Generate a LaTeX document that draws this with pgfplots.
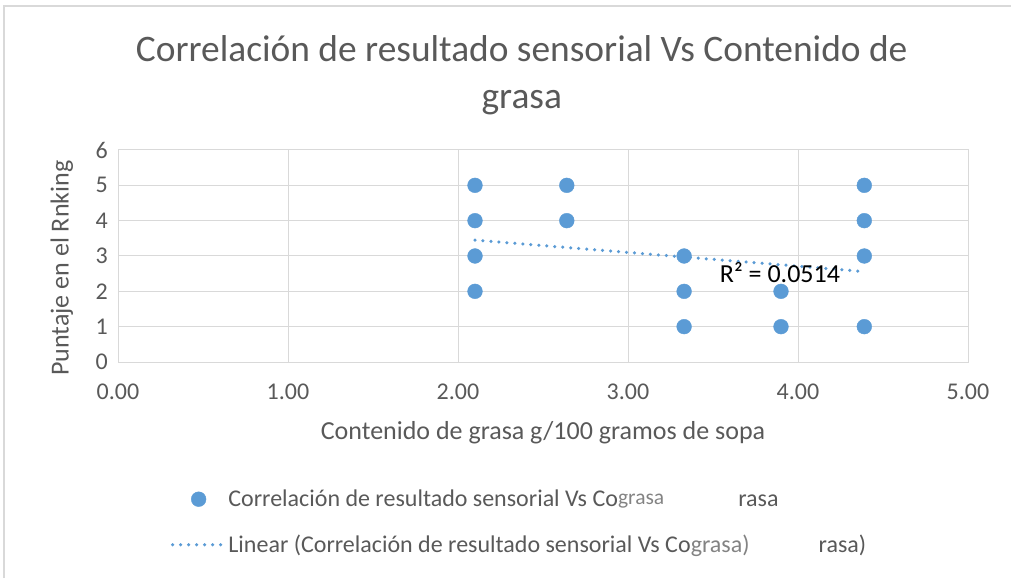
\documentclass[border=0pt]{standalone}
\usepackage{pgfplots}
\pgfplotsset{compat=1.18}
\usepackage{fontspec}
\setmainfont{Carlito}
\definecolor{ptblue}{HTML}{5B9BD5}
\definecolor{txt}{HTML}{595959}
\definecolor{gridc}{HTML}{D9D9D9}
\pgfplotsset{
  markleg/.style={legend image code/.code={\draw[##1] plot coordinates {(26pt,0pt)};}},
  lineleg/.style={legend image code/.code={\draw[##1] (0pt,0pt) -- (52pt,0pt);}},
}
\begin{document}
\begin{tikzpicture}[x=1pt,y=1pt]
\path[use as bounding box] (0,0) rectangle (1011,578);
\draw[gridc, line width=1.2pt] (4,0) -- (4,572) -- (1011,572);
\begin{axis}[
  at={(118pt,216pt)}, anchor=south west,
  scale only axis, width=850pt, height=212pt,
  xmin=0, xmax=5, ymin=0, ymax=6,
  xtick={0,1,2,3,4,5}, ytick={0,1,2,3,4,5,6},
  xticklabels={0.00,1.00,2.00,3.00,4.00,5.00},
  grid=major, major grid style={gridc, line width=1pt},
  axis line style={gridc, line width=1pt},
  tick style={draw=none},
  /pgf/number format/assume math mode=true,
  ticklabel style={font=\fontsize{24}{26}\selectfont, text=txt, inner sep=0pt},
  xticklabel style={yshift=-22pt},
  yticklabel style={xshift=-10pt},
  title={Correlación de resultado sensorial Vs Contenido de\\grasa},
  title style={at={(axis description cs:0.475,1.325)}, anchor=center, align=center,
    font=\fontsize{37.4}{47}\selectfont, text=txt},
  xlabel={Contenido de grasa g/100 gramos de sopa},
  xlabel style={at={(axis description cs:0.5,-0.335)}, anchor=center,
    font=\fontsize{26}{30}\selectfont, text=txt},
  ylabel={Puntaje en el Rnking},
  ylabel style={at={(axis description cs:-0.066,0.443)}, anchor=center, rotate=0,
    font=\fontsize{26}{30}\selectfont, text=txt},
  legend style={at={(axis description cs:0.062,-0.594)}, anchor=north west,
    draw=none, fill=none, font=\fontsize{24}{28}\selectfont, text=txt,
    row sep=23pt, inner sep=0pt},
  legend cell align=left,
]
\addplot[only marks, mark=*, mark size=7.4pt, color=ptblue, fill=ptblue, markleg]
  coordinates {
  (2.10,5) (2.10,4) (2.10,3) (2.10,2)
  (2.64,5) (2.64,4)
  (3.33,3) (3.33,2) (3.33,1)
  (3.90,2) (3.90,1)
  (4.39,5) (4.39,4) (4.39,3) (4.39,1)
  };
\addlegendentry{Correlación de resultado sensorial Vs Co{\color{txt!75}\fontsize{21.5}{24}\selectfont\raisebox{2pt}{grasa}}\hspace{74pt}rasa}
\addplot[ptblue, line width=3.5pt, line cap=round, dash pattern=on 0pt off 8pt, lineleg]
  coordinates {(2.10,3.45) (4.39,2.56)};
\addlegendentry{Linear (Correlación de resultado sensorial Vs Co{\color{txt!75}grasa)}\hspace{69pt}rasa)}
\node[font=\fontsize{26}{30}\selectfont, text=black] at (axis cs:3.894,2.52) {R² = 0.0514};
\end{axis}
\end{tikzpicture}
\end{document}
